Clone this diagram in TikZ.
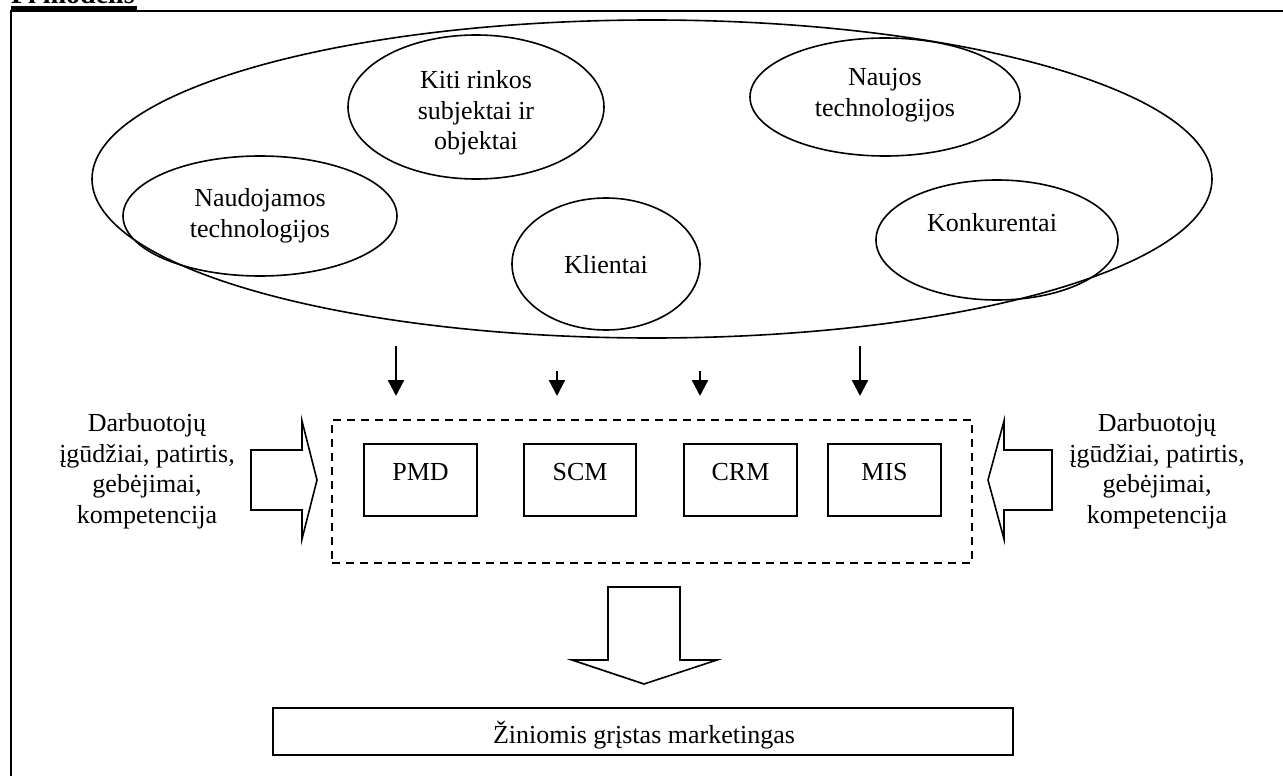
\documentclass[tikz,border=0pt]{standalone}
\usepackage{fontspec}
\setmainfont{Liberation Serif}
\usetikzlibrary{shapes.geometric,arrows.meta}
\begin{document}
\begin{tikzpicture}[x=1pt,y=-1pt,
  every node/.style={inner sep=0pt, outer sep=0pt},
  txt/.style={font=\fontsize{26}{30.5}\selectfont, align=center},
  oval/.style={ellipse, draw, line width=1.6pt},
  sysbox/.style={rectangle, draw, line width=1.6pt},
  flow/.style={line width=2.2pt, -{Triangle[width=16pt,length=16pt]}},
  fat/.style={draw, line width=1.6pt, line join=miter, fill=white},
]
\useasboundingbox (0,0) rectangle (1283,776);
\fill[white] (0,0) rectangle (1283,776);

% page frame and heading
\draw[line width=2pt] (11,800) -- (11,11) -- (1300,11);
\node[anchor=base west, font=\fontsize{28}{30}\selectfont\bfseries] (title) at (11,4) {Pi modelis};
\fill (11,6) rectangle (137,11);

% environment
\node[oval, minimum width=1120pt, minimum height=318pt] (env) at (652,179) {};
\node[oval, minimum width=256pt, minimum height=144pt] (kiti) at (476,107) {};
\node[txt] at (476,113) {Kiti rinkos\\subjektai ir\\objektai};
\node[oval, minimum width=270pt, minimum height=118pt] (naujos) at (885,97) {};
\node[txt] at (885,95) {Naujos\\technologijos};
\node[oval, minimum width=274pt, minimum height=120pt] (naud) at (260,216) {};
\node[txt] at (260,216) {Naudojamos\\technologijos};
\node[oval, minimum width=188pt, minimum height=132pt] (klient) at (606,264) {};
\node[txt, anchor=base] at (606,273) {Klientai};
\node[oval, minimum width=242pt, minimum height=120pt] (konk) at (997,240) {};
\node[txt, anchor=base] at (992,231) {Konkurentai};

% flows into the systems
\coordinate (a1s) at (396,346); \coordinate (a1e) at (396,396);
\coordinate (a2s) at (557,371); \coordinate (a2e) at (557,396);
\coordinate (a3s) at (700,371); \coordinate (a3e) at (700,396);
\coordinate (a4s) at (860,346); \coordinate (a4e) at (860,396);
\draw[flow] (a1s) -- (a1e);
\draw[flow] (a2s) -- (a2e);
\draw[flow] (a3s) -- (a3e);
\draw[flow] (a4s) -- (a4e);

% information systems
\node[draw, dashed, line width=1.6pt, dash pattern=on 8pt off 6pt, minimum width=640pt, minimum height=143pt] (sys) at (652,491.5) {};
\node[sysbox, minimum width=113pt, minimum height=72pt] (pmd) at (420.5,480) {};
\node[txt, anchor=base] at (420.5,480) {PMD};
\node[sysbox, minimum width=112pt, minimum height=72pt] (scm) at (580,480) {};
\node[txt, anchor=base] at (580,480) {SCM};
\node[sysbox, minimum width=113pt, minimum height=72pt] (crm) at (740.5,480) {};
\node[txt, anchor=base] at (740.5,480) {CRM};
\node[sysbox, minimum width=113pt, minimum height=72pt] (mis) at (884.5,480) {};
\node[txt, anchor=base] at (884.5,480) {MIS};

% staff competences
\node[txt] (compL) at (147,471) {Darbuotojų\\įgūdžiai, patirtis,\\gebėjimai,\\kompetencija};
\node[txt] (compR) at (1157,471) {Darbuotojų\\įgūdžiai, patirtis,\\gebėjimai,\\kompetencija};
\draw[fat] (251,450) -- (302,450) -- (302,421) -- (317,480) -- (302,539) -- (302,510) -- (251,510) -- cycle;
\draw[fat] (1052,450) -- (1004,450) -- (1004,421) -- (988,480) -- (1004,539) -- (1004,510) -- (1052,510) -- cycle;

% result
\draw[fat] (608,587) -- (680,587) -- (680,660) -- (717,660) -- (644,684) -- (572,660) -- (608,660) -- cycle;
\node[sysbox, minimum width=740pt, minimum height=47pt] (kbm) at (643,731.5) {};
\node[txt, anchor=base] at (644,743) {Žiniomis grįstas marketingas};
\end{tikzpicture}
\end{document}
